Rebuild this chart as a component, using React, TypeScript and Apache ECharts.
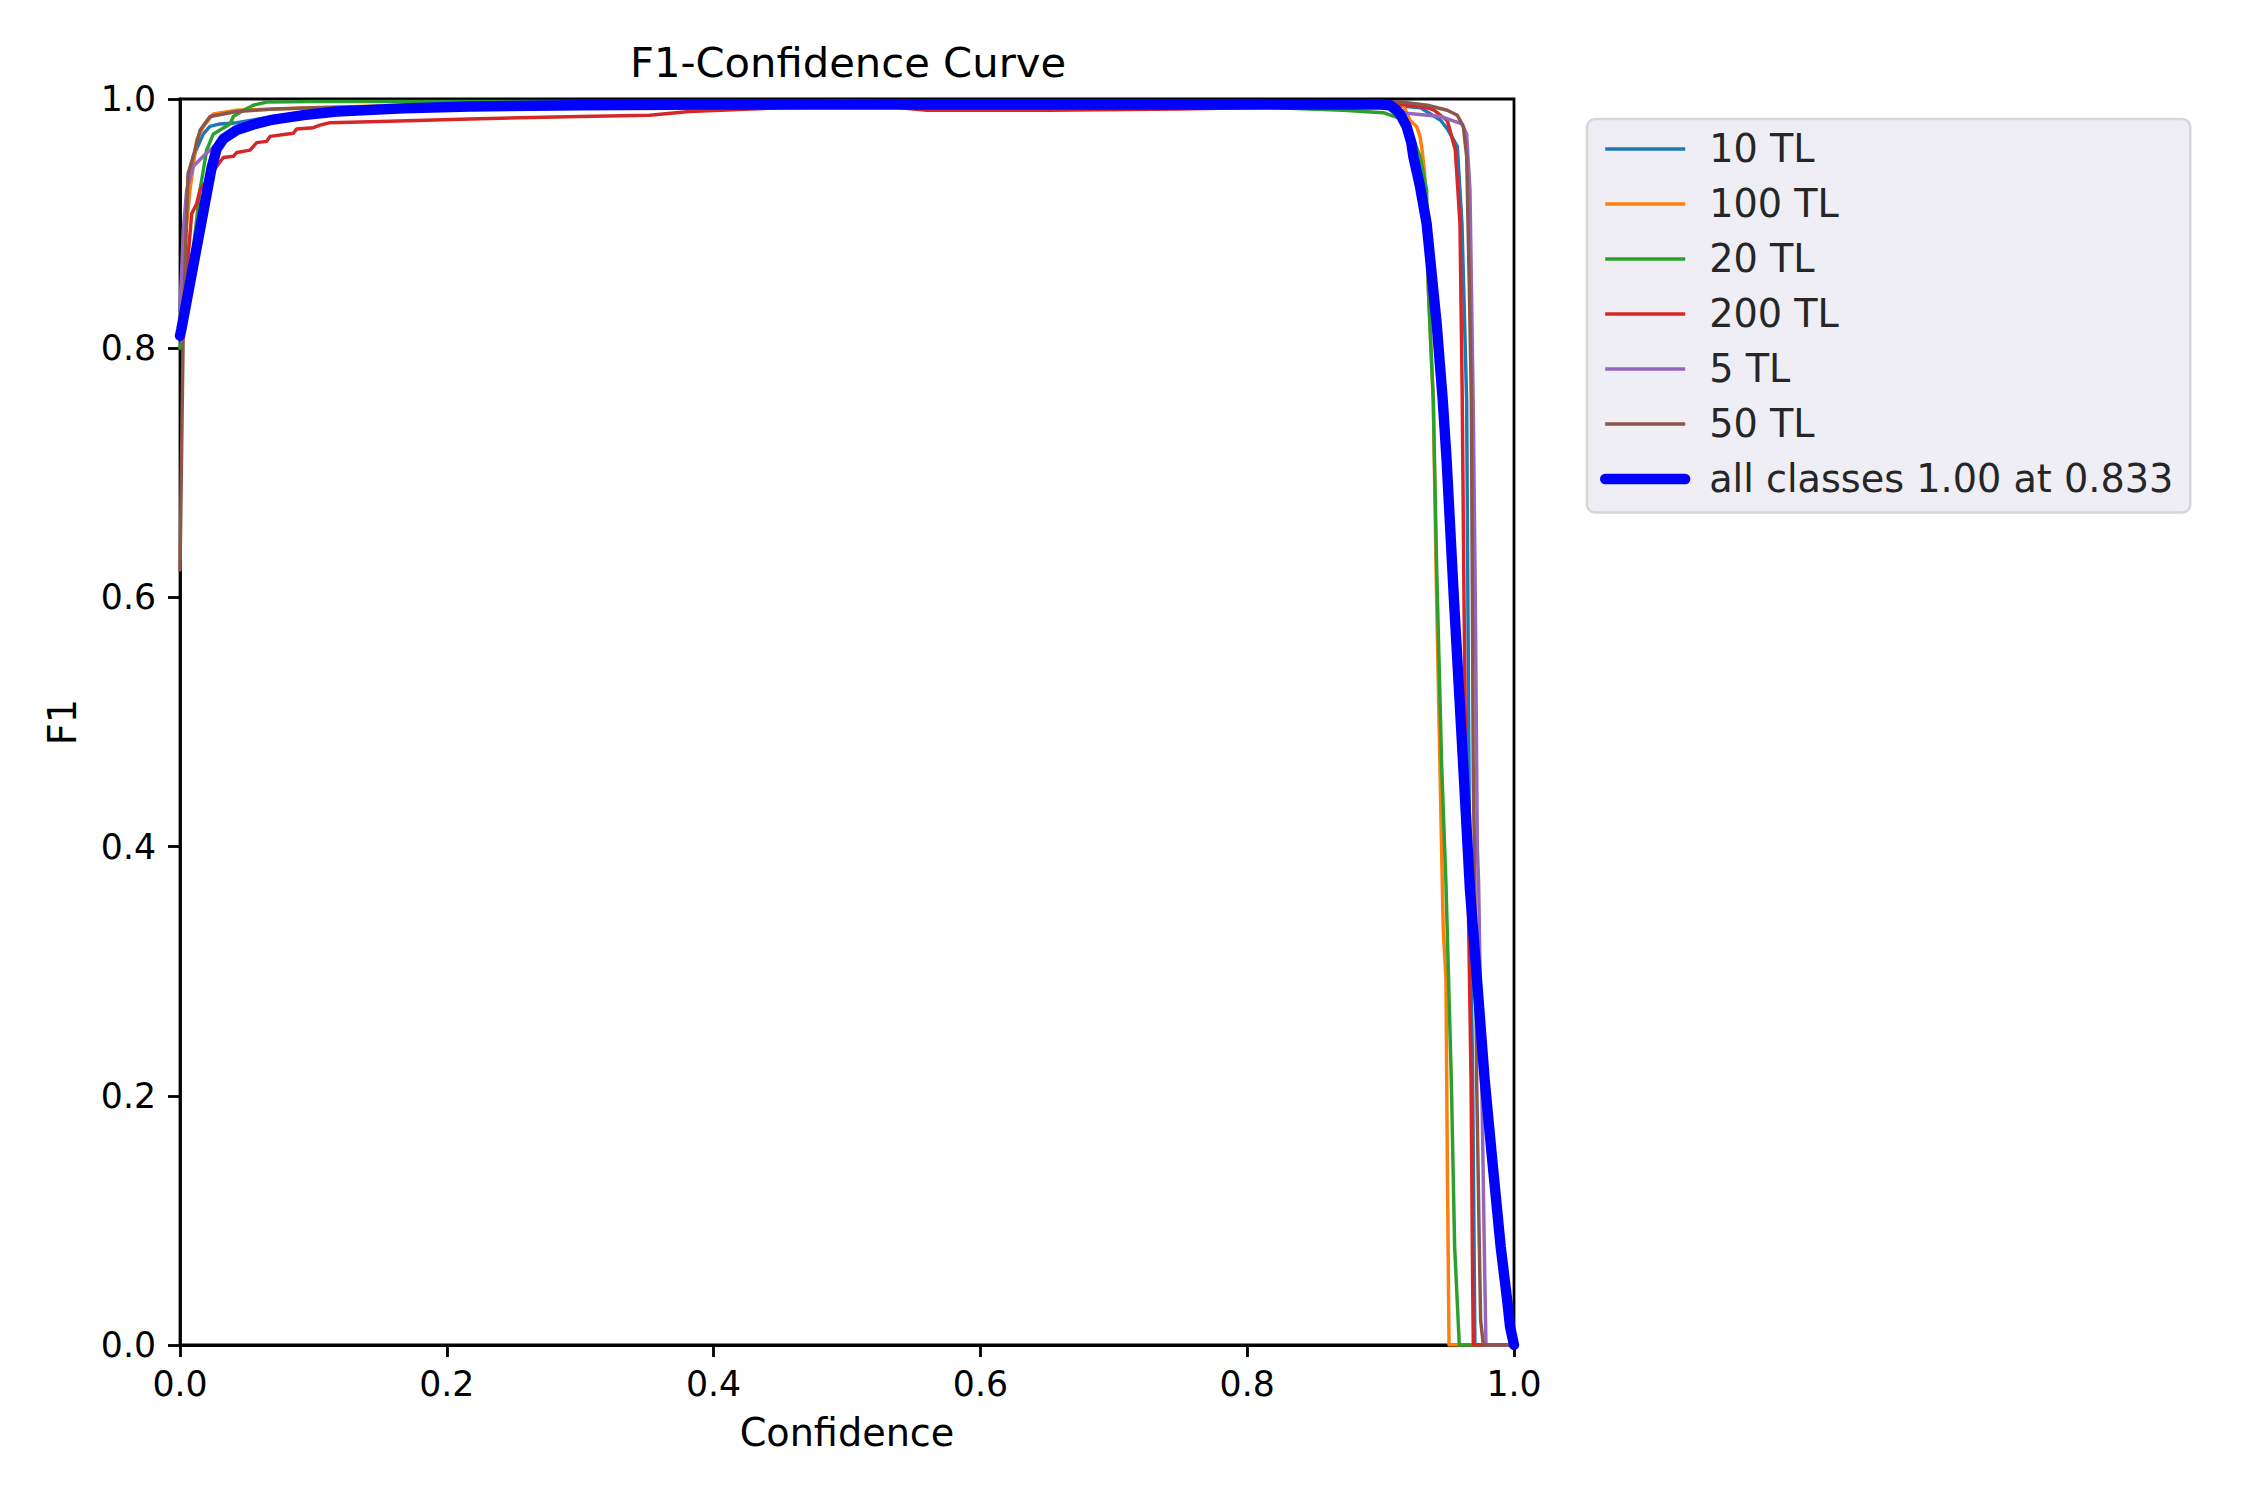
import React, { useEffect, useRef } from 'react';
import * as echarts from 'echarts';

const FONT = 'DejaVu Sans';

const seriesNames = ['10 TL', '100 TL', '20 TL', '200 TL', '5 TL', '50 TL', 'all classes 1.00 at 0.833'];
const seriesColors = ['#1f77b4', '#ff7f0e', '#2ca02c', '#d62728', '#9467bd', '#8c564b', '#0000ff'];

const tl10Conf = [0, 0.0037, 0.010, 0.0175, 0.0225, 0.030, 0.0425, 0.07, 0.1, 0.2, 0.5, 0.8, 0.9, 0.93, 0.945, 0.95, 0.9575, 0.961, 0.9645, 0.966, 0.967, 0.969, 0.9707, 1.0];
const tl10F1 = [0.83, 0.900, 0.954, 0.972, 0.978, 0.980, 0.981, 0.986, 0.990, 0.994, 0.997, 0.997, 0.996, 0.993, 0.983, 0.976, 0.962, 0.900, 0.758, 0.500, 0.360, 0.213, 0, 0];

const tl100Conf = [0, 0.0025, 0.0075, 0.0125, 0.0175, 0.025, 0.0425, 0.1, 0.2, 0.5, 0.8, 0.9, 0.912, 0.917, 0.922, 0.927, 0.9295, 0.931, 0.933, 0.9358, 0.9395, 0.942, 0.9445, 0.9465, 0.947, 0.949, 0.950, 0.9513, 1.0];
const tl100F1 = [0.82, 0.873, 0.927, 0.967, 0.978, 0.988, 0.991, 0.993, 0.996, 0.998, 0.998, 0.997, 0.996, 0.995, 0.983, 0.978, 0.970, 0.960, 0.941, 0.847, 0.758, 0.598, 0.464, 0.357, 0.333, 0.293, 0.15, 0, 0];

const tl20Conf = [0, 0.004, 0.010, 0.015, 0.020, 0.025, 0.0375, 0.040, 0.0475, 0.055, 0.065, 0.1, 0.2, 0.5, 0.75, 0.872, 0.902, 0.9195, 0.9295, 0.9345, 0.9358, 0.9395, 0.942, 0.9458, 0.949, 0.953, 0.9555, 0.959, 1.0];
const tl20F1 = [0.80, 0.82, 0.88, 0.927, 0.959, 0.972, 0.980, 0.986, 0.991, 0.995, 0.9975, 0.998, 0.998, 0.998, 0.996, 0.991, 0.989, 0.9826, 0.954, 0.927, 0.847, 0.758, 0.625, 0.464, 0.37, 0.213, 0.079, 0, 0];

const tl200Conf = [0, 0.0025, 0.006, 0.0088, 0.0125, 0.015, 0.0225, 0.0275, 0.0325, 0.040, 0.0425, 0.0525, 0.0575, 0.065, 0.0675, 0.085, 0.0875, 0.100, 0.105, 0.1125, 0.15, 0.2174, 0.30, 0.352, 0.382, 0.45, 0.53, 0.56, 0.65, 0.75, 0.85, 0.91, 0.935, 0.94, 0.95, 0.952, 0.956, 0.9595, 0.9612, 0.9625, 0.964, 0.9655, 0.9678, 0.969, 0.9695, 1.0];
const tl200F1 = [0.81, 0.82, 0.873, 0.908, 0.916, 0.927, 0.938, 0.946, 0.953, 0.954, 0.957, 0.959, 0.965, 0.966, 0.970, 0.9725, 0.976, 0.977, 0.979, 0.981, 0.982, 0.984, 0.986, 0.987, 0.990, 0.993, 0.994, 0.991, 0.991, 0.992, 0.994, 0.9966, 0.993, 0.991, 0.9826, 0.975, 0.959, 0.900, 0.760, 0.600, 0.450, 0.373, 0.213, 0.05, 0, 0];

const tl5Conf = [0, 0.0025, 0.005, 0.010, 0.0175, 0.0225, 0.04, 0.07, 0.1, 0.2, 0.5, 0.8, 0.9, 0.915, 0.9195, 0.945, 0.961, 0.9645, 0.967, 0.9695, 0.971, 0.9725, 0.9735, 0.9758, 0.978, 0.979, 1.0];
const tl5F1 = [0.83, 0.895, 0.927, 0.946, 0.954, 0.959, 0.975, 0.985, 0.989, 0.993, 0.996, 0.996, 0.994, 0.990, 0.9886, 0.986, 0.980, 0.972, 0.927, 0.750, 0.600, 0.400, 0.370, 0.213, 0.060, 0, 0];

const tl50Conf = [0, 0.001, 0.0025, 0.006, 0.010, 0.015, 0.0225, 0.0275, 0.0425, 0.07, 0.1, 0.2, 0.5, 0.8, 0.9, 0.915, 0.935, 0.95, 0.9575, 0.962, 0.9645, 0.9665, 0.968, 0.9695, 0.9707, 0.972, 0.974, 0.975, 0.977, 1.0];
const tl50F1 = [0.622, 0.70, 0.820, 0.940, 0.954, 0.975, 0.986, 0.987, 0.990, 0.992, 0.993, 0.995, 0.997, 0.997, 0.998, 0.9976, 0.995, 0.991, 0.987, 0.978, 0.954, 0.850, 0.758, 0.450, 0.373, 0.213, 0.080, 0.020, 0, 0];

const allConf = [0, 0.001, 0.0237, 0.0275, 0.0325, 0.0425, 0.055, 0.0675, 0.0925, 0.1175, 0.1675, 0.217, 0.3, 0.4, 0.5, 0.6, 0.7, 0.8, 0.9, 0.907, 0.912, 0.9145, 0.9195, 0.923, 0.9245, 0.9295, 0.9345, 0.942, 0.9466, 0.9495, 0.955, 0.962, 0.967, 0.9725, 0.978, 0.984, 0.990, 0.995, 0.997, 1.0];
const allF1 = [0.81, 0.815, 0.945, 0.960, 0.968, 0.975, 0.9795, 0.983, 0.987, 0.990, 0.9925, 0.994, 0.995, 0.9955, 0.9955, 0.9955, 0.9955, 0.9955, 0.9955, 0.995, 0.991, 0.988, 0.978, 0.965, 0.954, 0.930, 0.900, 0.820, 0.758, 0.710, 0.598, 0.464, 0.365, 0.290, 0.213, 0.145, 0.079, 0.035, 0.015, 0];

const xTicks = [0, 0.2, 0.4, 0.6, 0.8, 1.0];

const confs = [tl10Conf, tl100Conf, tl20Conf, tl200Conf, tl5Conf, tl50Conf, allConf];
const f1s = [tl10F1, tl100F1, tl20F1, tl200F1, tl5F1, tl50F1, allF1];

function zip(a: number[], b: number[]) {
  return a.map((x, i) => [x, b[i]]);
}

export default function App() {
  const ref = useRef<HTMLDivElement>(null);
  useEffect(() => {
    const chart = echarts.init(ref.current!, null, { renderer: 'svg', width: 2250, height: 1500 });
    const axisCommon = {
      type: 'value' as const,
      min: 0,
      max: 1,
      interval: xTicks[1] - xTicks[0],
      nameLocation: 'middle' as const,
      nameTextStyle: { fontSize: 38.2, color: '#000', fontFamily: FONT, lineHeight: 38 },
      axisLine: { show: true, onZero: false, lineStyle: { color: '#000', width: 2.8 } },
      axisTick: { show: true, inside: false, length: 12, lineStyle: { color: '#000', width: 2.8 } },
      splitLine: { show: false },
    };
    chart.setOption({
      animation: false,
      backgroundColor: '#ffffff',
      textStyle: { fontFamily: FONT },
      title: {
        text: 'F1-Confidence Curve',
        left: 843,
        top: 36,
        textAlign: 'center',
        textStyle: { fontSize: 41.7, fontWeight: 'normal', color: '#000', fontFamily: FONT, lineHeight: 42 },
      },
      grid: {
        left: 180, top: 99, width: 1334, height: 1246,
        show: true, borderColor: '#000', borderWidth: 2.8, backgroundColor: 'transparent',
      },
      xAxis: {
        ...axisCommon,
        name: 'Confidence',
        nameGap: 68.5,
        axisLabel: { fontSize: 34.7, color: '#000', fontFamily: FONT, margin: 21, lineHeight: 35, formatter: (v: number) => v.toFixed(1) },
      },
      yAxis: {
        ...axisCommon,
        name: 'F1',
        nameGap: 98.5,
        axisLabel: { fontSize: 34.7, color: '#000', fontFamily: FONT, margin: 24, formatter: (v: number) => v.toFixed(1) },
      },
      legend: {
        orient: 'vertical',
        left: 1587,
        top: 119,
        padding: [11, 17, 14.5, 13],
        itemWidth: 80,
        itemHeight: 20,
        itemGap: 17,
        backgroundColor: '#eeeef4',
        borderColor: '#d6d6d6',
        borderWidth: 2.5,
        borderRadius: 8,
        selectedMode: false,
        itemStyle: { opacity: 0 },
        textStyle: { fontSize: 38.2, color: '#262626', fontFamily: FONT, lineHeight: 38, padding: [0, 0, 0, 19] },
        data: seriesNames.map((name, i) => ({
          name,
          itemStyle: { opacity: 0 },
          lineStyle: { width: i === 6 ? 10.4 : 3.47, color: seriesColors[i], cap: i === 6 ? 'round' : 'butt', opacity: 1 },
        })),
      },
      series: seriesNames.map((name, i) => ({
        name,
        type: 'line',
        data: zip(confs[i], f1s[i]),
        symbol: 'none',
        showSymbol: false,
        silent: true,
        color: seriesColors[i],
        lineStyle: { width: i === 6 ? 10.4 : 3.47, color: seriesColors[i], cap: 'round', join: 'round' },
        itemStyle: { color: seriesColors[i] },
        emphasis: { disabled: true },
      })),
    });
    return () => chart.dispose();
  }, []);
  return <div ref={ref} style={{ position: 'absolute', left: 0, top: 0, width: 2250, height: 1500, background: '#fff' }} />;
}
